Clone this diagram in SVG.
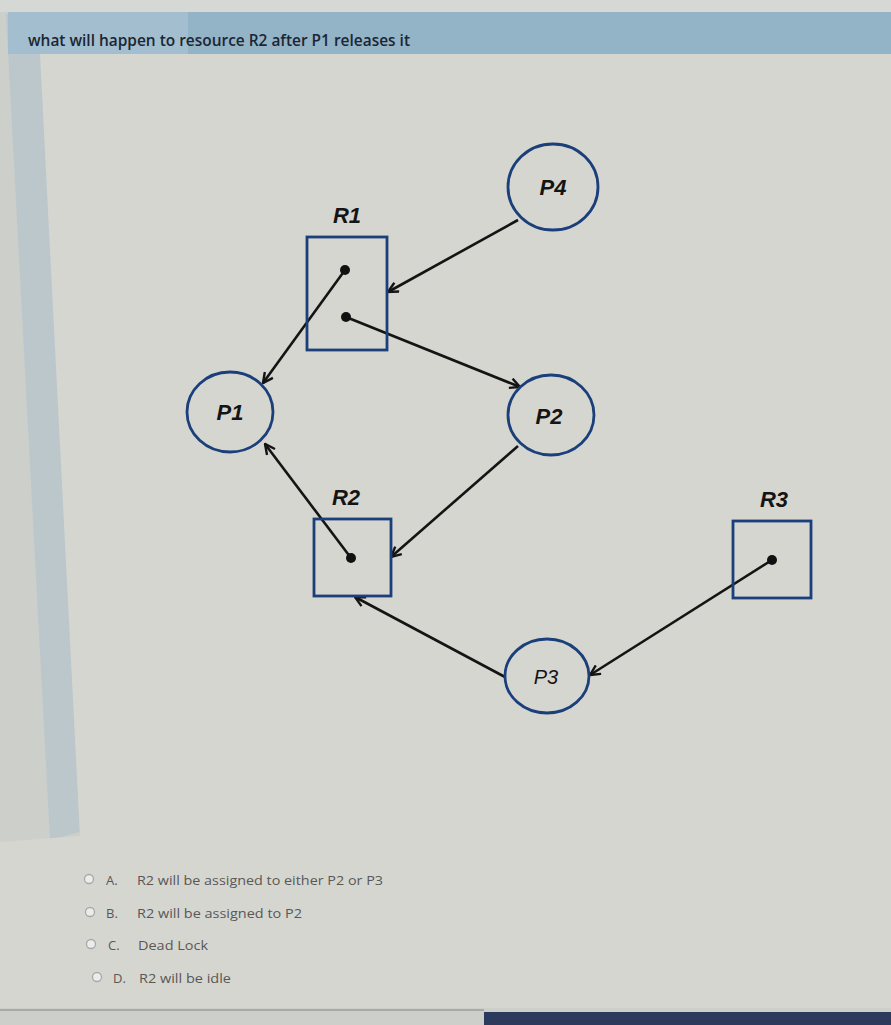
<svg xmlns="http://www.w3.org/2000/svg" width="891" height="1025" viewBox="0 0 891 1025">
<defs>
<style>
.node{fill:none;stroke:#1a3f7a;stroke-width:2.8}
.edge{fill:none;stroke:#141414;stroke-width:2.6;marker-end:url(#ah)}
.lbl{font-family:"Liberation Sans",Arial,sans-serif;font-weight:bold;font-style:italic;font-size:22px;fill:#141414;text-anchor:middle}
.opt{font-family:"Open Sans","Liberation Sans",sans-serif;font-size:13px;fill:#585858}
.radio{fill:#ececec;stroke:#a8a8a8;stroke-width:1.3}
</style>
<marker id="ah" viewBox="0 0 12 12" refX="11" refY="6" markerWidth="12" markerHeight="12" markerUnits="userSpaceOnUse" orient="auto">
<path d="M1,1 L11,6 L1,11" fill="none" stroke="#141414" stroke-width="2.4"/>
</marker>
</defs>
<rect x="0" y="0" width="891" height="1025" fill="#cdcfcb"/>
<rect x="0" y="0" width="891" height="12" fill="#d6d8d6"/>
<polygon points="6,14 40,14 80,832 50,840" fill="#bcc7cc"/>
<rect x="8" y="12" width="883" height="42" fill="#93b3c7"/>
<rect x="8" y="12" width="180" height="42" fill="#a8c0cf" opacity="0.8"/>
<polygon points="40,54 891,54 891,1008 0,1008 0,842 80,836" fill="#d6d6d0"/>
<line x1="0" y1="1010" x2="484" y2="1010" stroke="#a9aaa6" stroke-width="2"/>
<rect x="484" y="1012" width="407" height="13" fill="#2c3a5b"/>
<text x="28" y="46" font-family="'Open Sans','Liberation Sans',sans-serif" font-size="16" font-weight="600" fill="#1b2634" textLength="382" lengthAdjust="spacingAndGlyphs">what will happen to resource R2 after P1 releases it</text>

<g id="connectors">
<line class="edge" x1="518" y1="220" x2="388" y2="292"/>
<line class="edge" x1="345" y1="270" x2="263" y2="383"/>
<line class="edge" x1="346" y1="317" x2="520" y2="387"/>
<line class="edge" x1="351" y1="558" x2="265" y2="444"/>
<line class="edge" x1="518" y1="446" x2="391" y2="557"/>
<line class="edge" x1="505" y1="677" x2="355" y2="597"/>
<line class="edge" x1="772" y1="560" x2="590" y2="675"/>
</g>

<g id="P4"><ellipse class="node" cx="553" cy="187" rx="45" ry="43"/><text class="lbl" x="553" y="195">P4</text></g>
<g id="R1"><rect class="node" x="307" y="237" width="80" height="113"/><circle cx="345" cy="270" r="5" fill="#111"/><circle cx="346" cy="317" r="5" fill="#111"/><text class="lbl" x="347" y="223">R1</text></g>
<g id="P1"><ellipse class="node" cx="230" cy="412" rx="43" ry="40"/><text class="lbl" x="230" y="420">P1</text></g>
<g id="P2"><ellipse class="node" cx="551" cy="415" rx="43" ry="40"/><text class="lbl" x="549" y="424">P2</text></g>
<g id="R2"><rect class="node" x="314" y="519" width="77" height="77"/><circle cx="351" cy="558" r="5" fill="#111"/><text class="lbl" x="346" y="505">R2</text></g>
<g id="R3"><rect class="node" x="733" y="521" width="78" height="77"/><circle cx="772" cy="560" r="5" fill="#111"/><text class="lbl" x="774" y="507">R3</text></g>
<g id="P3"><ellipse class="node" cx="547" cy="676" rx="42" ry="37"/><text class="lbl" x="546" y="684" style="font-weight:normal;font-size:20px">P3</text></g>

<g id="options">
<circle class="radio" cx="89" cy="879" r="4.5"/>
<text class="opt" x="106" y="885">A.</text>
<text class="opt" x="137" y="885" textLength="246" lengthAdjust="spacingAndGlyphs">R2 will be assigned to either P2 or P3</text>
<circle class="radio" cx="90" cy="912" r="4.5"/>
<text class="opt" x="106" y="918">B.</text>
<text class="opt" x="137" y="918" textLength="165" lengthAdjust="spacingAndGlyphs">R2 will be assigned to P2</text>
<circle class="radio" cx="91" cy="944" r="4.5"/>
<text class="opt" x="108" y="950">C.</text>
<text class="opt" x="138" y="950" textLength="70" lengthAdjust="spacingAndGlyphs">Dead Lock</text>
<circle class="radio" cx="97" cy="977" r="4.5"/>
<text class="opt" x="113" y="983">D.</text>
<text class="opt" x="139" y="983" textLength="92" lengthAdjust="spacingAndGlyphs">R2 will be idle</text>
</g>
</svg>
